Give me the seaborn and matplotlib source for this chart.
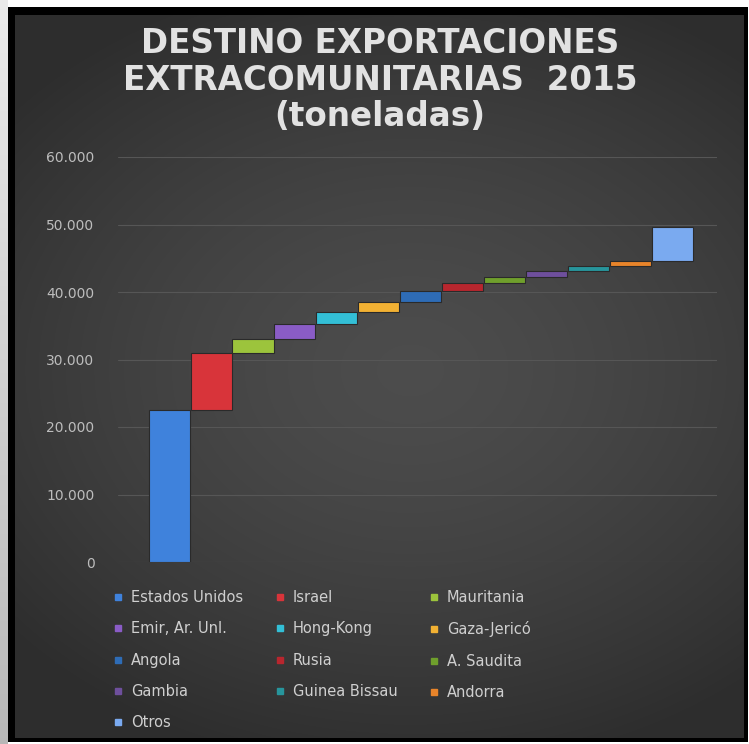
import matplotlib
matplotlib.use('Agg')
import matplotlib.pyplot as plt
from matplotlib.lines import Line2D
import numpy as np
import seaborn as sns

countries = ['Estados Unidos', 'Israel', 'Mauritania', 'Emir, Ar. Unl.', 'Hong-Kong', 'Gaza-Jericó',
             'Angola', 'Rusia', 'A. Saudita', 'Gambia', 'Guinea Bissau', 'Andorra', 'Otros']
toneladas = [22500, 8500, 2100, 2200, 1700, 1500, 1600, 1200, 900, 900, 700, 800, 5000]
colors = ['#3f82dc', '#d8343a', '#9cc43c', '#8a5cc6', '#33bfd6', '#f2b133',
          '#2e6cb6', '#b8262e', '#6f9f2c', '#6e4f9c', '#27959c', '#e8842a', '#7aaaf0']
yticks = [0, 10000, 20000, 30000, 40000, 50000, 60000]
title = 'DESTINO EXPORTACIONES\nEXTRACOMUNITARIAS  2015\n(toneladas)'

W, H = 749, 744
fig = plt.figure(figsize=(W / 100, H / 100), dpi=100)

# background: white page, grey left strip, black frame, dark gradient panel
yy, xx = np.mgrid[0:H, 0:W]
img = np.ones((H, W, 3))
img[:, :8] = np.linspace(0.92, 0.72, H)[:, None, None]
img[7:742, 8:748] = 0.0
r = np.sqrt(((xx - 410) / 520.0) ** 2 + ((yy - 370) / 400.0) ** 2)
panel = np.clip(0.30 - 0.12 * r ** 1.5, 0.18, 0.30)
inner = (slice(15, 738), slice(15, 744))
img[inner] = panel[inner][:, :, None]
fig.figimage(img, xo=0, yo=0, zorder=-5)

sns.set_style('dark')
ax = fig.add_axes([118 / W, 1 - 562 / H, (717 - 118) / W, (562 - 157) / H])
ax.set_facecolor('none')
ax.set_zorder(2)

bases = np.concatenate([[0], np.cumsum(toneladas)[:-1]])
sns.barplot(x=countries, y=toneladas, hue=countries, palette=colors, width=0.98, saturation=1,
            legend=False, ax=ax, edgecolor='#2a2a2a', linewidth=0.8, zorder=3)
for patch, b in zip(ax.patches, bases):
    patch.set_y(b)

ax.set_ylim(0, 60000)
ax.set_xlim(-1.22, 13.07)
ax.set_yticks(yticks)
ax.set_yticklabels([f'{v:,}'.replace(',', '.') for v in yticks], color='#bdbdbd', fontsize=10)
ax.set_xticks([])
ax.set_xlabel('')
ax.set_ylabel('')
ax.tick_params(axis='y', length=0, pad=17)
ax.grid(axis='y', color='#565656', linewidth=0.8, zorder=0)
ax.grid(axis='x', visible=False)
for s in ax.spines.values():
    s.set_visible(False)

fig.text(380 / W, 1 - 80 / H, title, ha='center', va='center', fontsize=23.5, fontweight='bold',
         color='#e2e2e2', linespacing=1.15)

handles = [Line2D([], [], marker='s', linestyle='', color=c, markersize=5) for c in colors]
order = list(range(0, 13, 3)) + list(range(1, 13, 3)) + list(range(2, 13, 3))
fig.legend([handles[i] for i in order], [countries[i] for i in order], ncol=3,
           loc='upper left', bbox_to_anchor=(99 / W, 1 - 577 / H), frameon=False,
           fontsize=10.5, labelcolor='#cfcfcf', handlelength=0.8, handletextpad=0.5,
           labelspacing=1.12, columnspacing=2.1)

fig.savefig('out.png', dpi=100)
